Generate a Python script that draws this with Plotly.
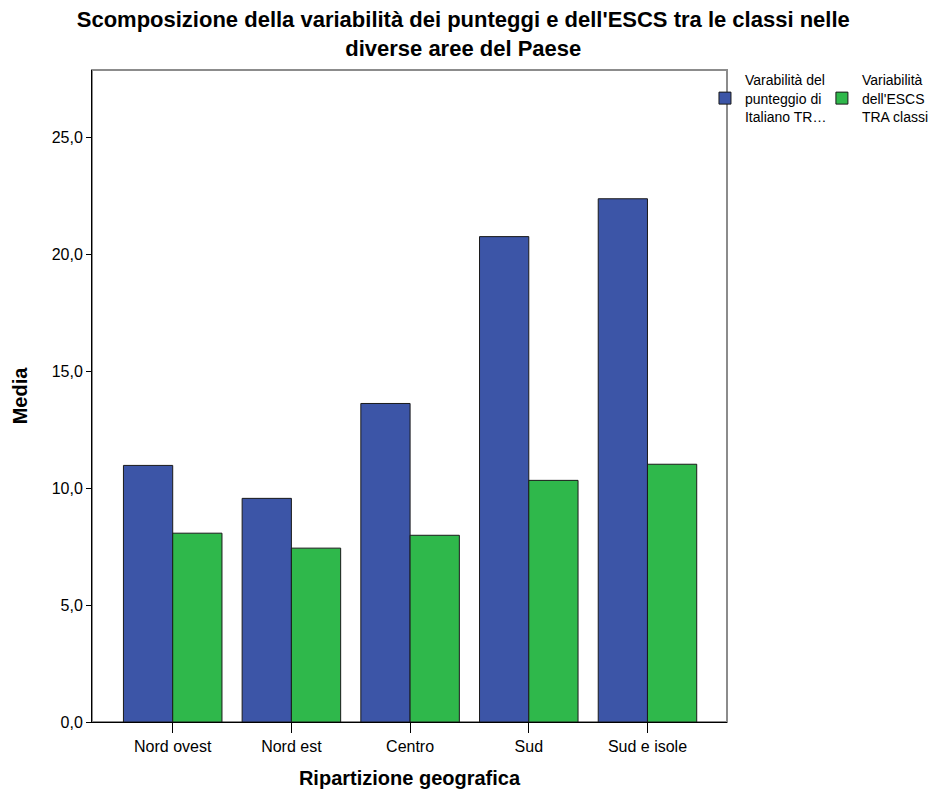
import plotly.graph_objects as go

categories = ["Nord ovest", "Nord est", "Centro", "Sud", "Sud e isole"]
italiano_tra = [10.98, 9.57, 13.63, 20.77, 22.39]
escs_tra = [8.08, 7.44, 7.99, 10.34, 11.03]
series_names = ["Varabilità del<br>punteggio di<br>Italiano TR…", "Variabilità<br>dell'ESCS<br>TRA classi"]
y_ticks = [0, 5, 10, 15, 20, 25]

FONT = "Liberation Sans, Arial, sans-serif"
BLUE = "#3c55a7"
GREEN = "#2fb84b"

fig = go.Figure()
fig.add_trace(go.Bar(x=categories, y=italiano_tra, name=series_names[0],
                     marker=dict(color=BLUE, line=dict(color="#1a1a1a", width=1)),
                     legend="legend", showlegend=True))
fig.add_trace(go.Bar(x=categories, y=escs_tra, name=series_names[1],
                     marker=dict(color=GREEN, line=dict(color="#1a1a1a", width=1)),
                     legend="legend2", showlegend=True))

fig.update_layout(
    width=934, height=794,
    showlegend=True,
    paper_bgcolor="white", plot_bgcolor="white",
    separators=",.",
    barmode="group", bargap=0.17, bargroupgap=0,
    margin=dict(l=92, r=207, t=70, b=72, autoexpand=False),
    font=dict(family=FONT, color="black"),
    title=dict(text="Scomposizione della variabilità dei punteggi e dell'ESCS tra le classi nelle<br>diverse aree del Paese",
               x=0.496, xanchor="center", xref="container", yref="container", y=0.966, yanchor="top",
               font=dict(family=FONT, size=22, color="black", weight="bold")),
    xaxis=dict(range=[-0.68, 4.67], showline=True, linecolor="black", linewidth=1,
               ticks="outside", ticklen=10, tickcolor="black", showgrid=False,
               tickfont=dict(size=16), automargin=False,
               title=dict(text="Ripartizione geografica", font=dict(size=20, weight="bold"), standoff=16)),
    yaxis=dict(range=[0, 27.9], tickvals=y_ticks, tickformat=".1f", showline=True,
               linecolor="black", linewidth=1, ticks="outside", ticklen=5, tickcolor="black",
               showgrid=False, zeroline=False, tickfont=dict(size=16), automargin=False,
               title=dict(text="Media", font=dict(size=20, weight="bold"), standoff=18)),
    legend=dict(xref="container", yref="container", x=0.7548, xanchor="left", y=0.919, yanchor="top",
                bgcolor="rgba(0,0,0,0)", font=dict(size=14), borderwidth=0),
    legend2=dict(xref="container", yref="container", x=0.880, xanchor="left", y=0.919, yanchor="top",
                 bgcolor="rgba(0,0,0,0)", font=dict(size=14), borderwidth=0),
    shapes=[dict(type="rect", xref="paper", yref="paper", x0=0, x1=1, y0=0, y1=1,
                 line=dict(color="#8c8c8c", width=2), layer="below")],
)

fig.write_html("out.html", config={"displayModeBar": False},
               post_script="document.body.style.margin='0';document.body.style.overflow='hidden';")
